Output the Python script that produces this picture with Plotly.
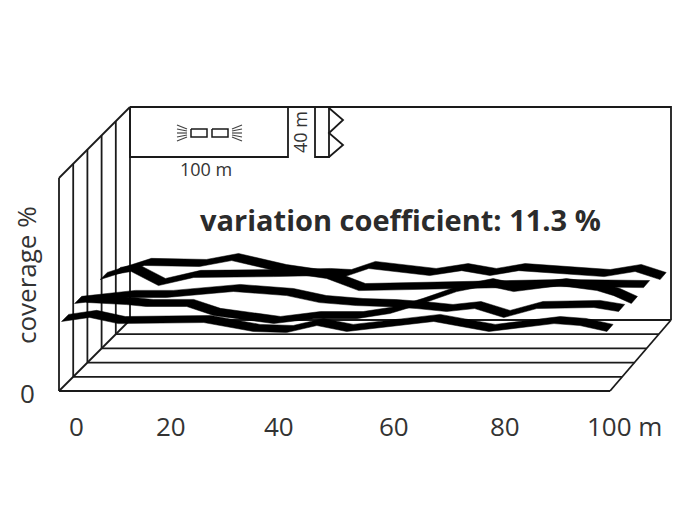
import plotly.graph_objects as go

# five measuring rows, distance along the row (m) and coverage (% of wall height)
row_a_x = [1.1, 6.2, 11.4, 26.9, 35.9, 41.9, 47.4, 52.8, 68.6, 78.6, 90.4, 95.1, 100]
row_a_cov = [34.3, 36.2, 33.3, 33.8, 29.6, 29.1, 32.4, 29.6, 34.3, 29.6, 33.3, 32.4, 29.6]

row_b_x = [0.9, 10.7, 17.6, 29.8, 39.5, 45.5, 52.2, 58.2, 63.2, 68.6, 73.7, 79, 85, 95.4, 99.9]
row_b_cov = [36.1, 38.9, 38.9, 41.7, 39.8, 36.5, 35.1, 34.6, 33.7, 32.3, 33.7, 29.5, 33.7, 34.2, 32.3]

row_c_x = [0.5, 7.8, 11.4, 18.8, 23.7, 34.7, 42, 49.8, 55.9, 60.8, 68.1, 73.6, 78.5, 87, 93.7, 96.8, 100]
row_c_cov = [29.9, 28.9, 28, 28, 23.8, 20, 22.3, 22.3, 24.7, 28.5, 35, 37.8, 35, 37.8, 35.5, 33.1, 29.4]

row_d_x = [0.4, 8.5, 18.6, 24.5, 33.3, 41.9, 47.8, 65.8, 84.1, 100]
row_d_cov = [34, 40.6, 40.1, 42.9, 37.7, 34.5, 28.8, 29.8, 30.7, 30.2]

row_e_x = [0.2, 3.5, 8.5, 15, 29.7, 38.9, 42.8, 47.2, 58.4, 64.3, 69.5, 74.8, 90.5, 96.2, 100.8]
row_e_cov = [29.7, 31.1, 24.5, 28.3, 28.7, 29.2, 28.7, 32.5, 29.2, 31.5, 29.2, 31.5, 28.7, 31.1, 27.3]

rows = [(row_a_x, row_a_cov), (row_b_x, row_b_cov), (row_c_x, row_c_cov),
        (row_d_x, row_d_cov), (row_e_x, row_e_cov)]

tick_labels = ['0', '20', '40', '60', '80', '100 m']
tick_px = [76, 171, 279, 394, 505, 624]

FONT = 'Open Sans'
INK = '#1a1a1a'
TEXT = '#333333'
RIBBON = 0.25   # half width of a ribbon, in rows
PAGE_MARGIN = 8  # the page body sits 8 px in from the window corner


# oblique view: the axes run in page pixels, depth is sheared up and to the right
def project(x, d, cov):
    left = 59 + 14.2 * d
    width = 551 - 2 * d
    return left + x / 100 * width, 391 - 14.2 * d - cov * 2.13


def line_trace(xs, ys, color=INK, width=1.8):
    return go.Scatter(x=xs, y=ys, mode='lines', line=dict(color=color, width=width),
                      hoverinfo='skip', showlegend=False)


fig = go.Figure()

# floor lines and posts on the left wall
for d in range(6):
    x0, y0 = project(0, d, 0)
    x1, y1 = project(100, d, 0)
    xt, yt = project(0, d, 100)
    fig.add_trace(line_trace([x0, x1], [y0, y1]))
    fig.add_trace(line_trace([x0, xt], [y0, yt]))

# floor edges, wall top and back wall
corners = [(0, 0, 0), (0, 5, 0)], [(100, 0, 0), (100, 5, 0)], [(0, 0, 100), (0, 5, 100)], \
          [(0, 5, 100), (100, 5, 100), (100, 5, 0)]
for c in corners:
    pts = [project(*p) for p in c]
    fig.add_trace(line_trace([p[0] for p in pts], [p[1] for p in pts]))

# ribbons
for d, (xs, cov) in enumerate(rows):
    low = [project(x, d - RIBBON, c) for x, c in zip(xs, cov)]
    high = [project(x, d + RIBBON, c) for x, c in zip(xs, cov)]
    outline = low + high[::-1] + low[:1]
    fig.add_trace(go.Scatter(x=[p[0] for p in outline], y=[p[1] for p in outline],
                             mode='lines', fill='toself', fillcolor='black',
                             line=dict(color='black', width=0.5),
                             hoverinfo='skip', showlegend=False))

# field sketch at the top of the back wall
fig.add_trace(line_trace([130, 130, 288, 288], [107, 157, 157, 107]))
fig.add_trace(line_trace([315, 315, 329, 329], [107, 157, 157, 107]))
fig.add_trace(line_trace([329, 343, 329, 343, 329], [108, 120, 133, 145, 157]))
fig.add_trace(line_trace([191, 207, 207, 191, 191], [129, 129, 137, 137, 129], width=1.5))
fig.add_trace(line_trace([212, 228, 228, 212, 212], [129, 129, 137, 137, 129], width=1.5))
for dy0, dy1 in [(-4, -8), (-2, -4), (0, 0), (2, 4), (4, 8)]:
    fig.add_trace(line_trace([187, 177], [133 + dy0, 133 + dy1], '#444444', 1.2))
    fig.add_trace(line_trace([232, 242], [133 + dy0, 133 + dy1], '#444444', 1.2))

# texts
for label, px in zip(tick_labels, tick_px):
    fig.add_annotation(x=px, y=426, text=label, showarrow=False,
                       font=dict(family=FONT, size=26, color=TEXT))
fig.add_annotation(x=27, y=393, text='0', showarrow=False,
                   font=dict(family=FONT, size=26, color=TEXT))
fig.add_annotation(x=26, y=275, text='coverage %', textangle=-90, showarrow=False,
                   font=dict(family=FONT, size=26, color=TEXT))
fig.add_annotation(x=400, y=219, text='<b>variation coefficient: 11.3 %</b>', showarrow=False,
                   font=dict(family=FONT, size=29, color='#2b2b2b'))
fig.add_annotation(x=206, y=169, text='100 m', showarrow=False,
                   font=dict(family=FONT, size=18, color=TEXT))
fig.add_annotation(x=300, y=132, text='40 m', textangle=-90, showarrow=False,
                   font=dict(family=FONT, size=18, color=TEXT))

fig.update_xaxes(range=[PAGE_MARGIN, 700 + PAGE_MARGIN], visible=False, fixedrange=True)
fig.update_yaxes(range=[525 + PAGE_MARGIN, PAGE_MARGIN], visible=False, fixedrange=True)
fig.update_layout(width=700, height=525, margin=dict(l=0, r=0, t=0, b=0),
                  paper_bgcolor='white', plot_bgcolor='white', showlegend=False)

fig.write_html("out.html")
